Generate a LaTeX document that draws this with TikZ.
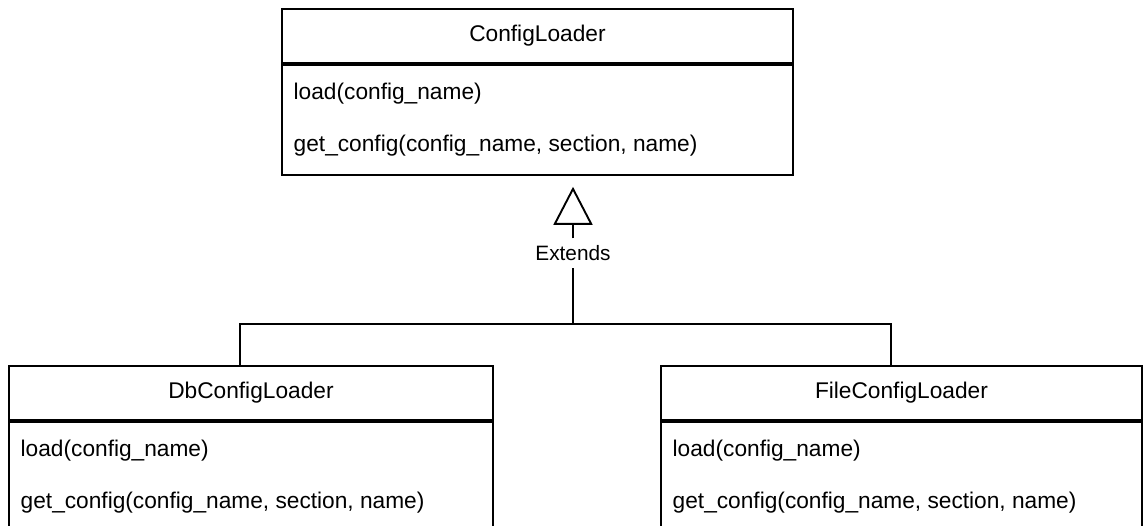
\documentclass[tikz,border=0pt]{standalone}
\usepackage{fontspec}
\setmainfont{Liberation Sans}
\usetikzlibrary{arrows.meta}

\tikzset{
    classhead/.style = {draw, line width=1.9pt, inner sep=0pt, minimum height=54pt, anchor=north west, font=\fontsize{22.7}{27}\selectfont},
    classbody/.style = {draw, line width=1.9pt, inner sep=0pt, minimum height=110pt, anchor=north west},
    method/.style = {anchor=base west, inner sep=0pt, font=\fontsize{22.7}{27}\selectfont},
    edgelabel/.style = {fill=white, inner sep=0pt, minimum height=29pt, font=\fontsize{20.8}{25}\selectfont},
    extends/.style = {line width=1.9pt, -{Triangle[open, length=38pt, width=39pt]}, shorten >=11pt},
}

\begin{document}
\begin{tikzpicture}[x=1pt, y=-1pt]
        \clip (0,0) rectangle (1143,526);

        % one box per class: name, methods below
        \foreach \name/\title/\x/\y/\w in {cl/ConfigLoader/281/8/511, db/DbConfigLoader/8/365/484, file/FileConfigLoader/660/365/481}{
            \node[classhead, minimum width=\w pt] (\name) at (\x,\y) {\title};
            \node[classbody, minimum width=\w pt] (\name-body) at (\name.south west) {};
            \node[method] (\name-load) at ([shift={(12.5pt,-36pt)}]\name-body.north west) {load(config\_name)};
            \node[method] (\name-get) at ([shift={(12.5pt,-88pt)}]\name-body.north west) {get\_config(config\_name, section, name)};
        }

        % inheritance
        \node[edgelabel] (ext) at (573,253) {Extends};
        \coordinate (joint) at (ext |- 0,324);
        \draw[line width=1.9pt] ([xshift=-11pt]db.north) |- (joint) -| ([xshift=-10.5pt]file.north);
        \draw[line width=1.9pt] (joint) -- (ext);
        \draw[extends] (ext) -- (ext |- cl-body.south);
    \end{tikzpicture}
\end{document}
